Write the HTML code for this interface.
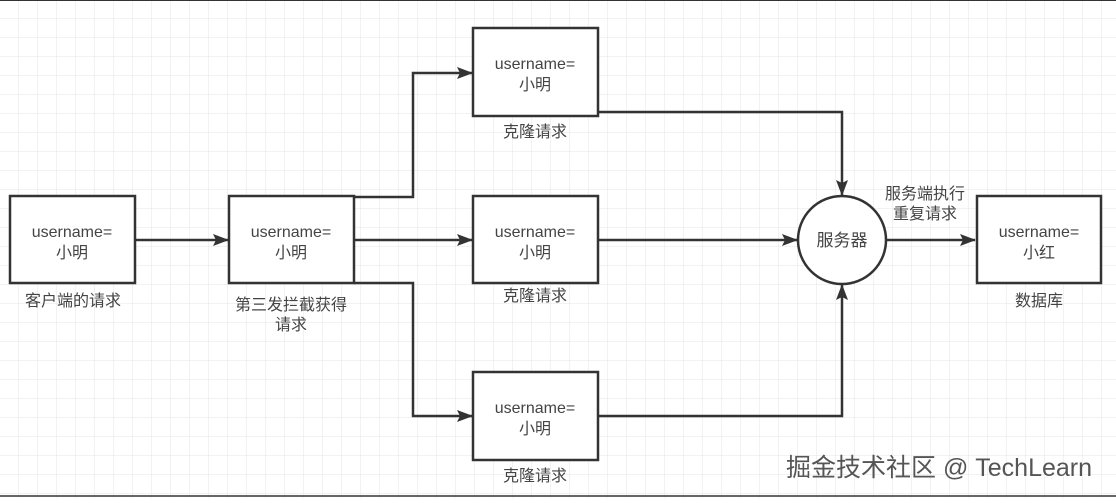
<!DOCTYPE html>
<html><head><meta charset="utf-8"><style>
html,body{margin:0;padding:0;background:#fff}
body{width:1116px;height:498px;overflow:hidden}
text{font-family:"Liberation Sans","Noto Sans CJK SC",sans-serif;fill:#444;font-size:16px}
.u{font-size:17px}
</style></head><body>
<svg width="1116" height="498" xmlns="http://www.w3.org/2000/svg">
<defs>
<pattern id="g" width="19" height="19" patternUnits="userSpaceOnUse" x="0" y="0">
<path d="M19 0V19M0 19H19" stroke="#e6e6e6" stroke-width="1" fill="none"/>
</pattern>
<marker id="a" markerWidth="16" markerHeight="14" refX="15" refY="7" orient="auto" markerUnits="userSpaceOnUse">
<path d="M0 1L16 7L0 13L3 7Z" fill="#333"/>
</marker>
</defs>
<rect width="1116" height="498" fill="url(#g)"/>
<line x1="0" y1="0.5" x2="1116" y2="0.5" stroke="#333" stroke-width="1"/>
<line x1="0" y1="496" x2="1116" y2="496" stroke="#666" stroke-width="2"/>
<g fill="#fff" stroke="#333" stroke-width="2.5">
<rect x="10" y="196" width="125" height="87"/>
<rect x="229" y="196" width="125" height="87"/>
<rect x="473" y="28" width="125" height="88"/>
<rect x="473" y="196" width="125" height="87"/>
<rect x="473" y="372" width="125" height="88"/>
<rect x="977" y="196" width="124" height="87"/>
<circle cx="842" cy="240" r="44"/>
</g>
<g fill="none" stroke="#333" stroke-width="2.5">
<path d="M135 240H228" marker-end="url(#a)"/>
<path d="M354 197H413V73H472" marker-end="url(#a)"/>
<path d="M354 240H472" marker-end="url(#a)"/>
<path d="M354 283H413V416H472" marker-end="url(#a)"/>
<path d="M598 112H842V195" marker-end="url(#a)"/>
<path d="M598 240H797" marker-end="url(#a)"/>
<path d="M598 416H842V285" marker-end="url(#a)"/>
<path d="M886 240H975" marker-end="url(#a)"/>
</g>
<g text-anchor="middle" class="u">
<text x="72" y="237">username=</text><text x="72" y="258">小明</text>
<text x="291" y="237">username=</text><text x="291" y="258">小明</text>
<text x="535" y="69">username=</text><text x="535" y="90">小明</text>
<text x="535" y="237">username=</text><text x="535" y="258">小明</text>
<text x="535" y="413">username=</text><text x="535" y="434">小明</text>
<text x="1039" y="237">username=</text><text x="1039" y="258">小红</text>
</g>
<g text-anchor="middle">
<text x="842" y="246" style="font-size:17px">服务器</text>
<text x="73" y="306">客户端的请求</text>
<text x="291" y="310">第三发拦截获得</text><text x="291" y="330">请求</text>
<text x="535" y="137">克隆请求</text>
<text x="535" y="301">克隆请求</text>
<text x="535" y="481">克隆请求</text>
<text x="1039" y="306">数据库</text>
<text x="925" y="199">服务端执行</text><text x="925" y="219">重复请求</text>
</g>
<text x="786" y="476" style="font-size:25px;fill:#555">掘金技术社区 @ TechLearn</text>
</svg>
</body></html>
